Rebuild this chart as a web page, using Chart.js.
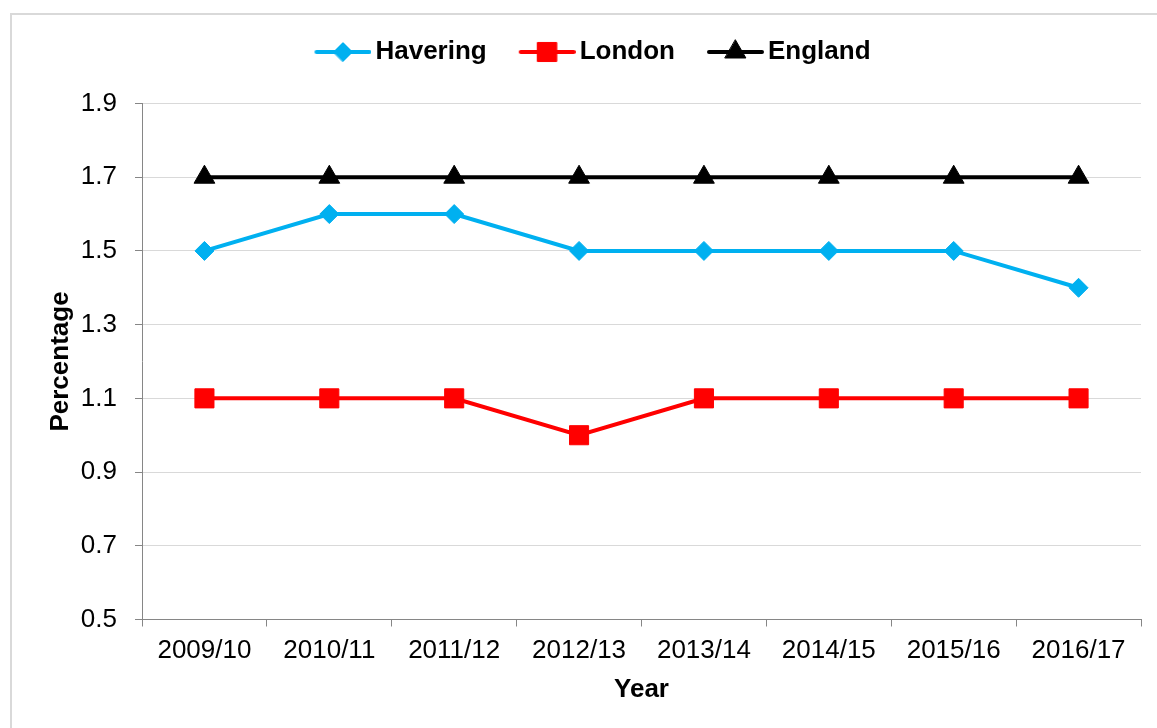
<!DOCTYPE html>
<html>
<head>
<meta charset="utf-8">
<script src="https://cdn.jsdelivr.net/npm/chart.js@4"></script>
<style>
  html, body { margin: 0; padding: 0; background: #fff; overflow: hidden; }
  body { width: 1157px; height: 728px; position: relative; }
  .frame { position: absolute; left: 10px; top: 13px; width: 1180px; height: 740px; border: 2px solid #d9d9d9; }
  .wrap { position: absolute; left: 44px; top: 0; width: 1113px; height: 728px; }
</style>
</head>
<body>
<div class="frame"></div>
<div class="wrap"><canvas id="chart" width="1113" height="728"></canvas></div>
<script>
// Datos
const YEARS    = ['2009/10', '2010/11', '2011/12', '2012/13', '2013/14', '2014/15', '2015/16', '2016/17'];
const HAVERING = [1.5, 1.6, 1.6, 1.5, 1.5, 1.5, 1.5, 1.4];
const LONDON   = [1.1, 1.1, 1.1, 1.0, 1.1, 1.1, 1.1, 1.1];
const ENGLAND  = [1.7, 1.7, 1.7, 1.7, 1.7, 1.7, 1.7, 1.7];

const Y_MIN  = 0.5;
const Y_MAX  = 1.9;
const Y_STEP = 0.2;

Chart.defaults.font.family = '"Liberation Sans", Arial, sans-serif';

// Icono de leyenda: línea con marcador en el centro (estilo Excel)
function legendIcon(color, style, radius) {
  const c = document.createElement('canvas');
  c.width = 66;
  c.height = 26;
  const g = c.getContext('2d');
  g.strokeStyle = color;
  g.lineWidth = 4;
  g.lineCap = 'round';
  g.beginPath();
  g.moveTo(11, 13);
  g.lineTo(64, 13);
  g.stroke();
  g.fillStyle = color;
  g.lineWidth = 1;
  Chart.helpers.drawPoint(g, { pointStyle: style, radius, borderWidth: 1, rotation: 0 }, 37.5, 13);
  return c;
}

const series = (label, data, color, pointStyle, radius) => ({
  label, data, pointStyle,
  borderColor: color,
  backgroundColor: color,
  borderWidth: 4,
  pointRadius: radius,
  pointHoverRadius: radius,
  pointBorderWidth: 1,
  pointBackgroundColor: color,
  pointBorderColor: color,
  tension: 0,
  fill: false,
});

// Espacio extra debajo de la leyenda
const legendSpacer = {
  id: 'legendSpacer',
  beforeInit(chart) {
    const fit = chart.legend.fit;
    chart.legend.fit = function () {
      fit.bind(chart.legend)();
      this.height += 28.5;
    };
  },
};

new Chart(document.getElementById('chart'), {
  type: 'line',
  data: {
    labels: YEARS,
    datasets: [
      series('Havering', HAVERING, '#00b0f0', 'rectRot', 9.5),
      series('London',   LONDON,   '#ff0000', 'rect', 13.5),
      series('England',  ENGLAND,  '#000000', 'triangle', 12),
    ],
  },
  options: {
    responsive: false,
    animation: false,
    layout: { padding: { top: 7, right: 16, bottom: 0, left: 0 } },
    plugins: {
      legend: {
        labels: {
          usePointStyle: true,
          pointStyleWidth: 48,
          padding: 32,
          color: '#000',
          font: { size: 26, weight: 'bold' },
          generateLabels: chart => chart.data.datasets.map((ds, i) => ({
            text: ds.label,
            pointStyle: legendIcon(ds.borderColor, ds.pointStyle, ds.pointRadius),
            fontColor: '#000',
            lineWidth: 0,
            hidden: false,
            datasetIndex: i,
          })),
        },
      },
      tooltip: { enabled: false },
    },
    scales: {
      x: {
        offset: true,
        grid: { offset: true, drawOnChartArea: false, color: '#868686', tickLength: 7 },
        border: { color: '#868686' },
        ticks: { color: '#000', font: { size: 26 }, padding: 8.4, maxRotation: 0, autoSkip: false },
        title: { display: true, text: 'Year', color: '#000', font: { size: 26, weight: 'bold' }, padding: { top: 0, bottom: 22.4 } },
        afterFit: s => { s.height = 108.5; },
      },
      y: {
        min: Y_MIN,
        max: Y_MAX,
        grid: { color: '#d9d9d9', tickColor: '#868686', tickLength: 7 },
        border: { color: '#868686' },
        ticks: { stepSize: Y_STEP, color: '#000', font: { size: 26 }, padding: 18, callback: v => v.toFixed(1) },
        title: { display: true, text: 'Percentage', color: '#000', font: { size: 26, weight: 'bold' }, padding: { top: 1.4, bottom: 0 } },
        afterFit: s => { s.width = 98; },
      },
    },
  },
  plugins: [legendSpacer],
});
</script>
</body>
</html>
